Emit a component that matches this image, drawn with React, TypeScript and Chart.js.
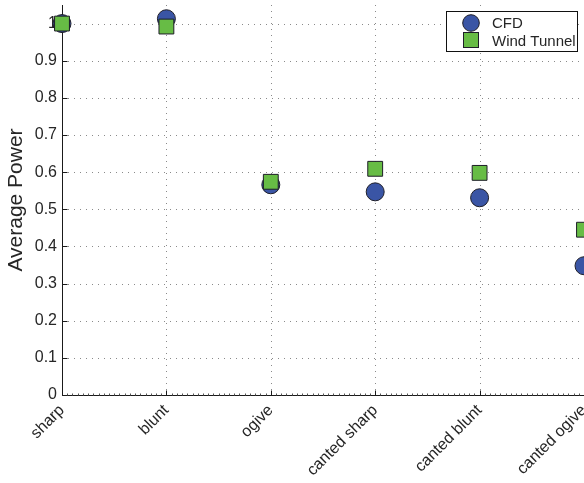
import React, { useEffect, useRef } from "react";
import { Chart, registerables } from "chart.js";

Chart.register(...registerables);

const categories = ["sharp", "blunt", "ogive", "canted sharp", "canted blunt", "canted ogive"];
const cfdValues = [1.0, 1.013, 0.566, 0.547, 0.531, 0.348];
const windTunnelValues = [1.0, 0.992, 0.574, 0.609, 0.598, 0.445];
const yTickValues = [0, 0.1, 0.2, 0.3, 0.4, 0.5, 0.6, 0.7, 0.8, 0.9, 1.0];
const seriesNames = ["CFD", "Wind Tunnel"];

const FONT = "'Liberation Sans', Arial, Helvetica, sans-serif";
const BLUE = "#3A55A5";
const GREEN = "#67BC45";
const EDGE = "#1e1e28";
const TEXT = "#262626";

const axesPlugin = {
  id: "matlabAxes",
  beforeDatasetsDraw(chart: any) {
    const { ctx, chartArea, scales } = chart;
    const { left, right, top, bottom } = chartArea;
    const x = scales.x;
    const y = scales.y;
    ctx.save();
    // dotted grid
    ctx.strokeStyle = "#8a8a8a";
    ctx.lineWidth = 1;
    ctx.setLineDash([1, 5]);
    yTickValues.forEach((v) => {
      const py = Math.round(y.getPixelForValue(v)) + 0.5;
      ctx.beginPath();
      ctx.moveTo(left, py);
      ctx.lineTo(right, py);
      ctx.stroke();
    });
    categories.forEach((_, i) => {
      const px = Math.round(x.getPixelForValue(i)) + 0.5;
      ctx.beginPath();
      ctx.moveTo(px, top);
      ctx.lineTo(px, bottom);
      ctx.stroke();
    });
    ctx.setLineDash([]);
    // axes lines
    ctx.strokeStyle = "#1a1a1a";
    const lx = Math.round(left) + 0.5;
    const by = Math.round(bottom) + 0.5;
    ctx.beginPath();
    ctx.moveTo(lx, top);
    ctx.lineTo(lx, by);
    ctx.lineTo(right, by);
    ctx.stroke();
    // inward ticks
    yTickValues.forEach((v) => {
      const py = Math.round(y.getPixelForValue(v)) + 0.5;
      ctx.beginPath();
      ctx.moveTo(lx, py);
      ctx.lineTo(lx + 5, py);
      ctx.stroke();
    });
    categories.forEach((_, i) => {
      const px = Math.round(x.getPixelForValue(i)) + 0.5;
      ctx.beginPath();
      ctx.moveTo(px, by);
      ctx.lineTo(px, by - 5);
      ctx.stroke();
    });
    // minor ticks on x
    ctx.strokeStyle = "#555";
    for (let i = 0; i < categories.length - 1; i++) {
      const p0 = x.getPixelForValue(i);
      const p1 = x.getPixelForValue(i + 1);
      for (let k = 1; k < 20; k++) {
        const px = Math.round(p0 + ((p1 - p0) * k) / 20) + 0.5;
        ctx.beginPath();
        ctx.moveTo(px, by);
        ctx.lineTo(px, by - 2);
        ctx.stroke();
      }
    }
    ctx.restore();
  },
  afterDraw(chart: any) {
    const { ctx, chartArea } = chart;
    const bx = Math.round(chartArea.right) - 137.5;
    const byy = 11.5;
    const bw = 131;
    const bh = 40;
    ctx.save();
    ctx.fillStyle = "#ffffff";
    ctx.fillRect(bx, byy, bw, bh);
    ctx.strokeStyle = "#111";
    ctx.lineWidth = 1;
    ctx.strokeRect(bx, byy, bw, bh);
    // CFD marker
    ctx.beginPath();
    ctx.arc(bx + 24.5, byy + 11.5, 8.3, 0, Math.PI * 2);
    ctx.fillStyle = BLUE;
    ctx.fill();
    ctx.strokeStyle = EDGE;
    ctx.stroke();
    // Wind tunnel marker
    ctx.fillStyle = GREEN;
    ctx.fillRect(bx + 17, byy + 21, 15, 15);
    ctx.strokeRect(bx + 17, byy + 21, 15, 15);
    ctx.fillStyle = TEXT;
    ctx.font = `15px ${FONT}`;
    ctx.textBaseline = "middle";
    ctx.textAlign = "left";
    ctx.fillText(seriesNames[0], bx + 45.5, byy + 12.5);
    ctx.fillText(seriesNames[1], bx + 45.5, byy + 30);
    ctx.restore();
  },
};

export default function App() {
  const ref = useRef<HTMLCanvasElement | null>(null);
  useEffect(() => {
    if (!ref.current) return;
    const chart = new Chart(ref.current, {
      type: "line",
      data: {
        labels: categories,
        datasets: [
          {
            label: seriesNames[0],
            data: cfdValues,
            showLine: false,
            pointStyle: "circle",
            pointRadius: 9,
            pointHoverRadius: 9,
            pointBackgroundColor: BLUE,
            pointBorderColor: EDGE,
            pointBorderWidth: 1,
            clip: false,
            order: 2,
          },
          {
            label: seriesNames[1],
            data: windTunnelValues,
            showLine: false,
            pointStyle: "rect",
            pointRadius: 10.5,
            pointHoverRadius: 10.5,
            pointBackgroundColor: GREEN,
            pointBorderColor: EDGE,
            pointBorderWidth: 1,
            clip: false,
            order: 1,
          },
        ],
      },
      options: {
        responsive: false,
        animation: false,
        events: [],
        layout: { autoPadding: false, padding: { top: 5, right: 26, left: 0, bottom: 0 } },
        plugins: { legend: { display: false }, tooltip: { enabled: false } },
        scales: {
          x: {
            type: "category",
            offset: false,
            grid: { display: false, drawTicks: false },
            border: { display: false },
            ticks: {
              autoSkip: false,
              minRotation: 45,
              maxRotation: 45,
              padding: 6,
              color: TEXT,
              font: { family: FONT, size: 16 },
            },
            afterFit: (s: any) => {
              s.height = 88;
              s.paddingLeft = 0;
              s.paddingRight = 0;
            },
          },
          y: {
            min: 0,
            max: 1.05,
            grid: { display: false, drawTicks: false },
            border: { display: false },
            ticks: {
              stepSize: 0.1,
              padding: 5,
              color: TEXT,
              font: { family: FONT, size: 16 },
              callback: (v: any) => String(Math.round(Number(v) * 10) / 10),
            },
            afterBuildTicks: (s: any) => {
              s.ticks = yTickValues.map((v) => ({ value: v }));
            },
            title: {
              display: true,
              text: "Average Power",
              color: TEXT,
              font: { family: FONT, size: 21 },
              padding: { top: 4, bottom: 0 },
            },
            afterFit: (s: any) => {
              s.width = 62;
              s.paddingTop = 0;
              s.paddingBottom = 0;
            },
          },
        },
      },
      plugins: [axesPlugin],
    });
    return () => chart.destroy();
  }, []);
  return (
    <div
      style={{
        position: "fixed",
        left: 0,
        top: 0,
        width: 584,
        height: 483,
        overflow: "hidden",
        background: "#fff",
      }}
    >
      <canvas ref={ref} width={610} height={483} style={{ display: "block" }} />
    </div>
  );
}
